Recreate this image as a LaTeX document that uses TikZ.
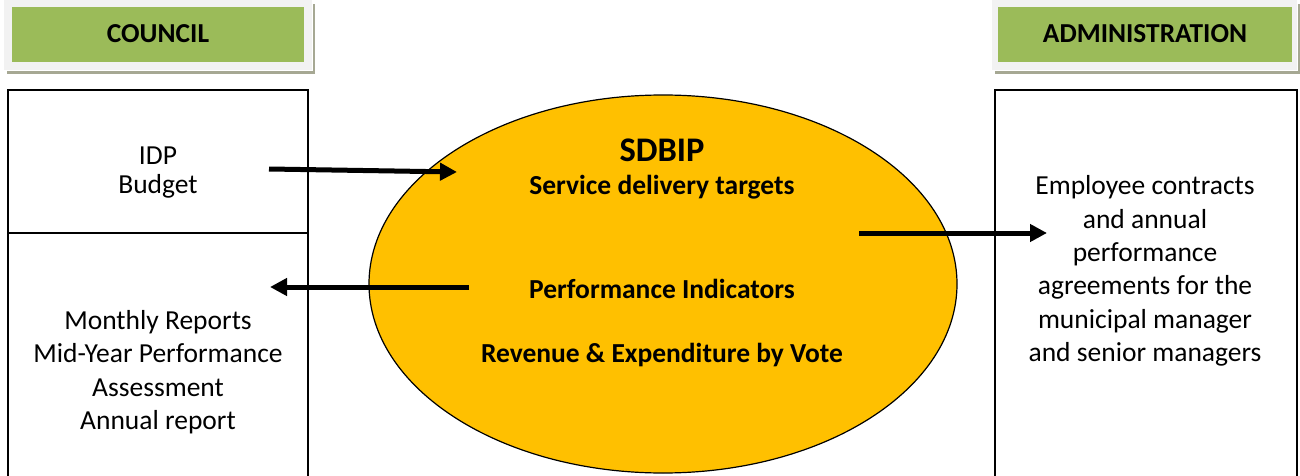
\documentclass[tikz,border=0pt]{standalone}
\usepackage{fontspec}
\setmainfont{Carlito}
\usetikzlibrary{arrows.meta}
\definecolor{hgreen}{HTML}{9BBB59}
\definecolor{hframe}{HTML}{F2F2F2}
\definecolor{hshadow}{HTML}{A6A893}
\definecolor{ellfill}{HTML}{FFC000}
\tikzset{
  box/.style={draw=black, line width=1.4pt, fill=white},
  body/.style={font=\fontsize{27.5}{33.4}\selectfont, align=center, inner sep=0pt},
  bodyb/.style={font=\bfseries\fontsize{27.5}{33}\selectfont, align=center, inner sep=0pt},
  head/.style={font=\bfseries\fontsize{27.4}{30}\selectfont, inner sep=0pt},
  bigarrow/.style={line width=5pt, -{Triangle[length=17pt,width=17pt]}},
}
\begin{document}
\begin{tikzpicture}[x=1pt,y=-1pt]
\useasboundingbox (0,0) rectangle (1300,476);
% header frames
\fill[hshadow] (7,4) rectangle (315,74);
\fill[white] (4,0) rectangle (313,71.5);
\fill[hframe] (4,0) rectangle (312,70);
\fill[hgreen] (12,7) rectangle (304,62);
\node[head] (council) at (158,34) {COUNCIL};
\fill[hshadow] (995,4) rectangle (1300,74);
\fill[white] (992,0) rectangle (1298,71.5);
\fill[hframe] (992,0) rectangle (1297,70);
\fill[hgreen] (998,7) rectangle (1292,62);
\node[head] (admin) at (1145,34) {ADMINISTRATION};
% boxes
\draw[box] (8,90) rectangle (308,233);
\draw[box] (8,233) rectangle (308,482);
\draw[box] (995,90) rectangle (1297,482);
% ellipse
\draw[line width=1.2pt, fill=ellfill] (663,284) ellipse [x radius=294, y radius=189];
% texts
\node[body, font=\fontsize{27.5}{29}\selectfont] (idp) at (158,173) {IDP\\Budget};
\node[body] (reports) at (158,372) {Monthly Reports\\Mid-Year Performance\\Assessment\\Annual report};
\node[body] (contracts) at (1145,271) {Employee contracts\\and annual\\performance\\agreements for the\\municipal manager\\and senior managers};
\node[bodyb, font=\bfseries\fontsize{34.5}{36}\selectfont] (sdbip) at (662,150) {SDBIP};
\node[bodyb] (sdt) at (662,187) {Service delivery targets};
\node[bodyb] (pi) at (662,289) {Performance Indicators};
\node[bodyb] (rev) at (662,355) {Revenue \& Expenditure by Vote};
% arrows
\coordinate (a1s) at (269,169);
\coordinate (a1e) at (457,172);
\coordinate (a2s) at (469,287);
\coordinate (a2e) at (270,287);
\coordinate (a3s) at (859,233);
\coordinate (a3e) at (1047,233);
\draw[bigarrow] (a1s) -- (a1e);
\draw[bigarrow] (a2s) -- (a2e);
\draw[bigarrow] (a3s) -- (a3e);
\end{tikzpicture}
\end{document}
